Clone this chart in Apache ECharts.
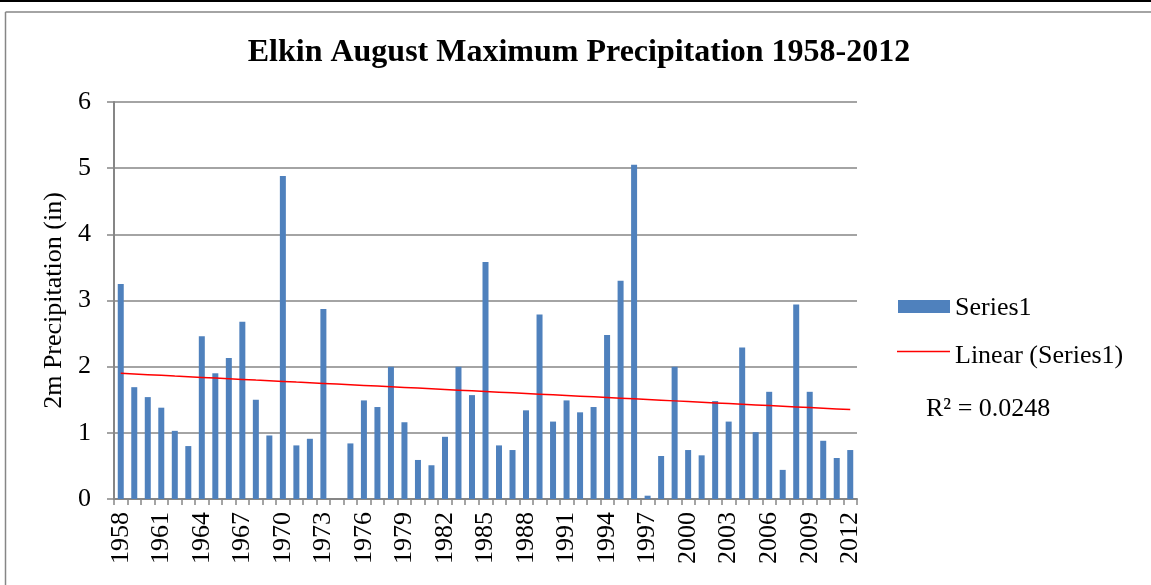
<!DOCTYPE html>
<html>
<head>
<meta charset="utf-8">
<script src="https://cdn.jsdelivr.net/npm/echarts@6/dist/echarts.min.js"></script>
<style>html,body{margin:0;padding:0;background:#fff;}#c{width:1151px;height:585px;}</style>
</head>
<body>
<div id="c"></div>
<script>
const years = [];
for (let y = 1958; y <= 2012; y++) years.push(String(y));
const series1 = [
  3.25, 1.69, 1.54, 1.38, 1.03, 0.80, 2.46, 1.90, 2.13, 2.68,
  1.50, 0.96, 4.88, 0.81, 0.91, 2.87, null, 0.84, 1.49, 1.39,
  2.00, 1.16, 0.59, 0.51, 0.94, 2.00, 1.57, 3.58, 0.81, 0.74,
  1.34, 2.79, 1.17, 1.49, 1.31, 1.39, 2.48, 3.30, 5.05, 0.05,
  0.65, 2.00, 0.74, 0.66, 1.48, 1.17, 2.29, 1.01, 1.62, 0.44,
  2.94, 1.62, 0.88, 0.62, 0.74
];
const yTicks = [0, 1, 2, 3, 4, 5, 6];
const titleText = 'Elkin August Maximum Precipitation 1958-2012';
const seriesName = 'Series1';
const trendName = 'Linear (Series1)';
const r2Text = 'R\u00B2 = 0.0248';

// least squares linear trend (x = 1..n), blank years skipped
let cnt = 0, sx = 0, sy = 0, sxy = 0, sxx = 0;
series1.forEach((v, i) => {
  if (v === null) return;
  const x = i + 1; cnt++; sx += x; sy += v; sxy += x * v; sxx += x * x;
});
const slope = (cnt * sxy - sx * sy) / (cnt * sxx - sx * sx);
const intercept = (sy - slope * sx) / cnt;
const trend = series1.map((v, i) => +(intercept + slope * (i + 1)).toFixed(4));

const font = 'Liberation Serif';
const chart = echarts.init(document.getElementById('c'));
chart.setOption({
  backgroundColor: '#fff',
  animation: false,
  title: {
    text: titleText, left: 574, top: 32, textAlign: 'center',
    textStyle: { fontFamily: font, fontWeight: 'bold', fontSize: 32, color: '#000' }
  },
  grid: { left: 114, right: 294, top: 102, bottom: 86, containLabel: false },
  xAxis: {
    type: 'category', data: years, boundaryGap: true,
    axisLine: { lineStyle: { color: '#868686', width: 2 } },
    axisTick: { show: true, interval: 0, length: 6, lineStyle: { color: '#868686', width: 1.5 } },
    axisLabel: { interval: 2, rotate: 90, fontFamily: font, fontSize: 26, color: '#000', margin: 13 }
  },
  yAxis: {
    type: 'value', min: 0, max: 6, interval: 1,
    name: '2m Precipitation (in)', nameLocation: 'middle', nameGap: 47, nameRotate: 90,
    nameTextStyle: { fontFamily: font, fontSize: 26, color: '#000' },
    axisLine: { show: true, lineStyle: { color: '#868686', width: 2 } },
    axisTick: { show: true, length: 7, lineStyle: { color: '#868686', width: 1.5 } },
    axisLabel: { fontFamily: font, fontSize: 26, color: '#000', margin: 23,
      formatter: v => yTicks.includes(v) ? String(v) : '' },
    splitLine: { lineStyle: { color: '#868686', width: 1.5 } }
  },
  series: [
    { name: seriesName, type: 'bar', data: series1, barWidth: 6,
      itemStyle: { color: '#4F81BD' } },
    { name: trendName, type: 'line', data: trend, symbol: 'none',
      lineStyle: { color: '#FF0000', width: 1.5 }, z: 5 }
  ],
  graphic: [
    { type: 'rect', shape: { x: 0, y: 0, width: 1151, height: 2 }, style: { fill: '#000' } },
    { type: 'line', shape: { x1: 5.5, y1: 12, x2: 1151, y2: 12 }, style: { stroke: '#868686', lineWidth: 1.5 } },
    { type: 'line', shape: { x1: 5.5, y1: 12, x2: 5.5, y2: 585 }, style: { stroke: '#868686', lineWidth: 1.5 } },
    { type: 'rect', shape: { x: 898, y: 300, width: 52, height: 13 }, style: { fill: '#4F81BD' } },
    { type: 'text', x: 955, y: 308, style: { text: seriesName, font: '26px "Liberation Serif"', fill: '#000', textVerticalAlign: 'middle' } },
    { type: 'line', shape: { x1: 897, y1: 351.5, x2: 950, y2: 351.5 }, style: { stroke: '#FF0000', lineWidth: 1.5 } },
    { type: 'text', x: 955, y: 356, style: { text: trendName, font: '26px "Liberation Serif"', fill: '#000', textVerticalAlign: 'middle' } },
    { type: 'text', x: 926, y: 409, style: { text: r2Text, font: '26px "Liberation Serif"', fill: '#000', textVerticalAlign: 'middle' } }
  ]
});
</script>
</body>
</html>
